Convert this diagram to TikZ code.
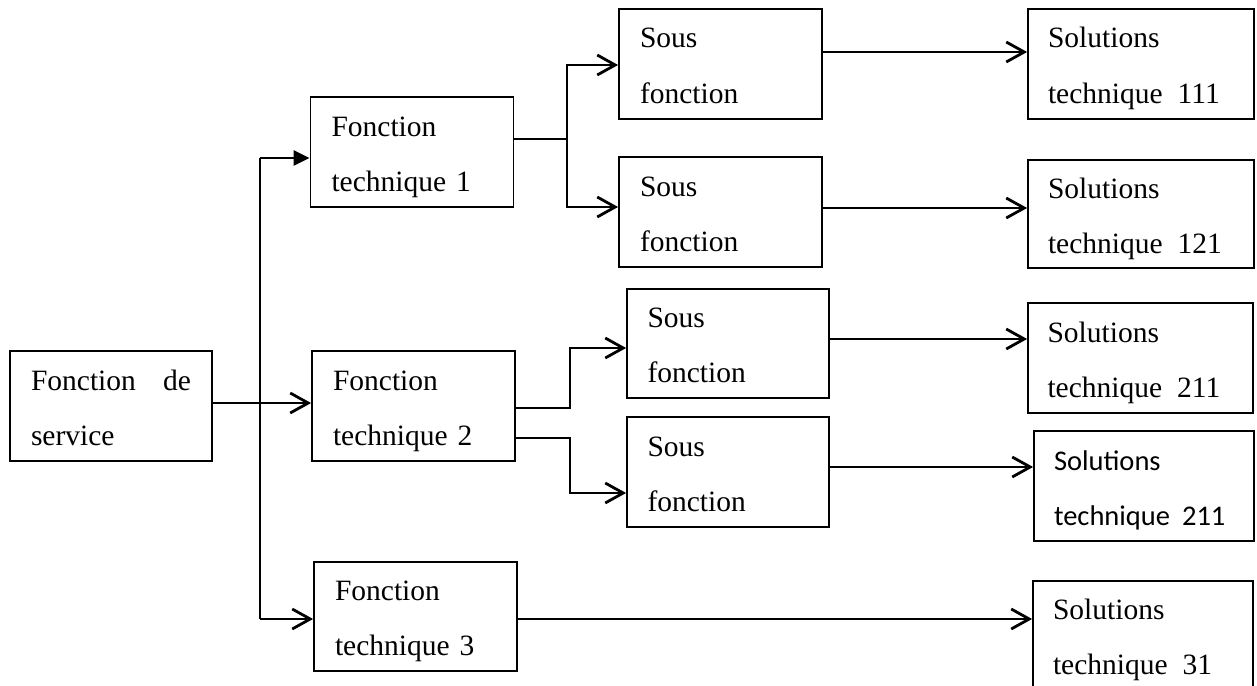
\documentclass[tikz,border=0pt]{standalone}
\usepackage{fontspec}
\setmainfont{Liberation Serif}
\newfontfamily\calibrifont{Carlito}
\usetikzlibrary{arrows.meta}
\begin{document}
\begin{tikzpicture}[x=1pt,y=-1pt,
  blk/.style={draw, line width=1.8pt, inner sep=0pt, align=left,
    font=\fontsize{29.5}{55}\selectfont,
    execute at begin node={\rule{0pt}{30pt}},
    execute at end node={\rule[-7pt]{0pt}{7pt}}},
  fbox/.style={blk, minimum width=203pt, minimum height=110pt, text width=161pt},
  sbox/.style={blk, minimum width=226pt, minimum height=110pt, text width=186pt},
  conn/.style={line width=2.8pt},
  openarrow/.style={conn, -{Straight Barb[length=18pt,width=20pt]}},
  fillarrow/.style={conn, -{Triangle[length=16pt,width=15pt]}}
]
\useasboundingbox (0,0) rectangle (1257,685);
\clip (0,0) rectangle (1257,685);

% service function and technical functions
\node[fbox, minimum width=202pt, text width=160pt] (fs) at (111,406) {Fonction\hfill de\\service};
\node[fbox] (ft1) at (412,152) {Fonction\\technique 1};
\node[fbox] (ft2) at (413.5,406) {Fonction\\technique 2};
\node[fbox, minimum height=109pt] (ft3) at (415.5,616.5) {Fonction\\technique 3};

% sub-functions
\node[fbox] (sf1) at (720.5,64) {Sous\\fonction};
\node[fbox] (sf2) at (720.5,212) {Sous\\fonction};
\node[fbox, minimum width=202pt, minimum height=109pt] (sf3) at (728,343.5) {Sous\\fonction};
\node[fbox, minimum width=202pt] (sf4) at (728,472) {Sous\\fonction};

% technical solutions
\node[sbox] (s111) at (1141,64) {Solutions\\technique\hspace{15pt}111};
\node[sbox, minimum height=108pt] (s121) at (1141,214) {Solutions\\technique\hspace{15pt}121};
\node[sbox, minimum width=225pt] (s211) at (1140.5,358) {Solutions\\technique\hspace{15pt}211};
\node[sbox, minimum width=220pt, text width=180pt, font=\fontsize{28.5}{55}\calibrifont] (s211b) at (1144,486) {Solutions\\\mbox{technique\hspace{12pt}211}};
\node[sbox, minimum width=220pt, text width=180pt, minimum height=109pt] (s31) at (1143,635.5) {Solutions\\technique\hspace{15pt}31};

% main trunk from the service function
\coordinate (jtop) at (260,158);
\coordinate (jmid) at (260,403);
\coordinate (jbot) at (260,619);
\draw[conn] (jtop) -- (jbot);
\draw[fillarrow] (jtop) -- (jtop -| ft1.west);
\draw[openarrow] (jmid -| fs.east) -- (jmid -| ft2.west);
\draw[openarrow] (jbot) -- (jbot -| ft3.west);

% fork of technical function 1
\coordinate (f1) at (567,139);
\coordinate (f1a) at (567,65);
\coordinate (f1b) at (567,207);
\draw[conn] (ft1.east |- f1) -- (f1);
\draw[openarrow] (f1) -- (f1a) -- (f1a -| sf1.west);
\draw[openarrow] (f1) -- (f1b) -- (f1b -| sf2.west);

% fork of technical function 2
\coordinate (f2a) at (570,408);
\coordinate (f2b) at (570,348);
\coordinate (f2c) at (570,438);
\coordinate (f2d) at (570,493);
\draw[openarrow] (ft2.east |- f2a) -- (f2a) -- (f2b) -- (f2b -| sf3.west);
\draw[openarrow] (ft2.east |- f2c) -- (f2c) -- (f2d) -- (f2d -| sf4.west);

% links to the solutions
\coordinate (h1) at (0,52);
\coordinate (h2) at (0,208);
\coordinate (h3) at (0,339);
\coordinate (h4) at (0,467);
\draw[openarrow] (sf1.east |- h1) -- (s111.west |- h1);
\draw[openarrow] (sf2.east |- h2) -- (s121.west |- h2);
\draw[openarrow] (sf3.east |- h3) -- (s211.west |- h3);
\draw[openarrow] (sf4.east |- h4) -- (s211b.west |- h4);
\draw[openarrow] (ft3.east |- jbot) -- (s31.west |- jbot);
\end{tikzpicture}
\end{document}
